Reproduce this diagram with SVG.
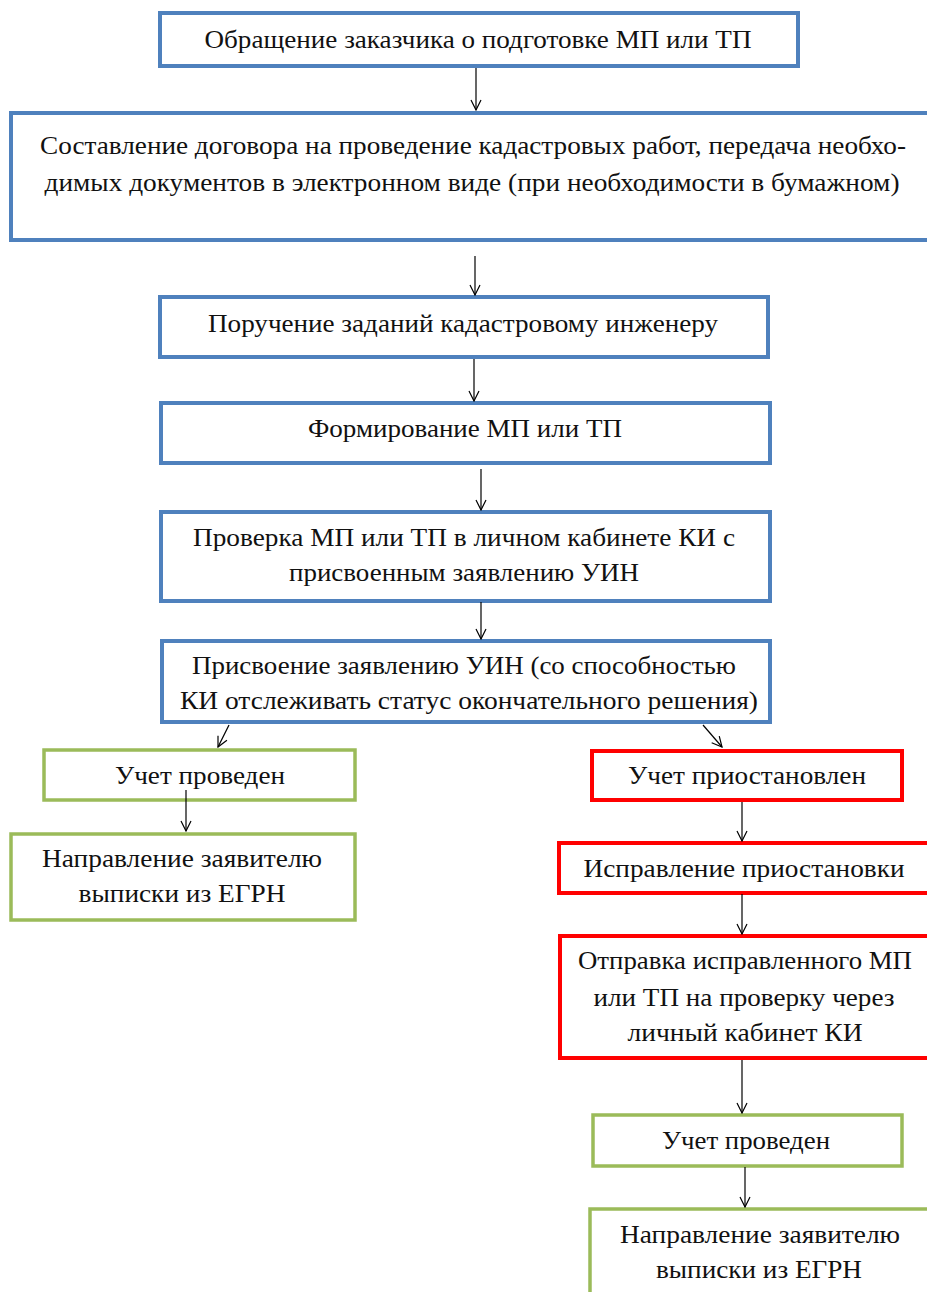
<svg xmlns="http://www.w3.org/2000/svg" width="927" height="1292" viewBox="0 0 927 1292">
<defs>
<marker id="arr" viewBox="0 0 12 12" refX="11" refY="6" markerWidth="12" markerHeight="12" markerUnits="userSpaceOnUse" orient="auto">
<path d="M1,1 L11,6 L1,11" fill="none" stroke="#000" stroke-width="1.2"/>
</marker>
<style>
.b{fill:#fff;stroke:#4F81BD;stroke-width:4}
.g{fill:#fff;stroke:#9BBB59;stroke-width:3.5}
.r{fill:#fff;stroke:#FF0000;stroke-width:4}
text{font-family:"Liberation Serif","Times New Roman",serif;font-size:26px;fill:#111;text-anchor:middle}
.c line{stroke:#000;stroke-width:1.2;marker-end:url(#arr)}
</style>
</defs>
<rect width="927" height="1292" fill="#fff"/>
<g id="n1"><rect class="b" x="160" y="13" width="638" height="53"/><text x="478" y="48" textLength="547" lengthAdjust="spacingAndGlyphs">Обращение заказчика о подготовке МП или ТП</text></g>
<g id="n2"><rect class="b" x="11" y="113" width="930" height="127"/><text x="473" y="154" textLength="866" lengthAdjust="spacingAndGlyphs">Составление договора на проведение кадастровых работ, передача необхо-</text><text x="472" y="191" textLength="855" lengthAdjust="spacingAndGlyphs">димых документов в электронном виде (при необходимости в бумажном)</text></g>
<g id="n3"><rect class="b" x="160" y="297" width="608" height="60"/><text x="463" y="332" textLength="510" lengthAdjust="spacingAndGlyphs">Поручение заданий кадастровому инженеру</text></g>
<g id="n4"><rect class="b" x="161" y="403" width="609" height="60"/><text x="465" y="437" textLength="314" lengthAdjust="spacingAndGlyphs">Формирование МП или ТП</text></g>
<g id="n5"><rect class="b" x="161" y="512" width="609" height="89"/><text x="464" y="546" textLength="542" lengthAdjust="spacingAndGlyphs">Проверка МП или ТП в личном кабинете КИ с</text><text x="464" y="581" textLength="350" lengthAdjust="spacingAndGlyphs">присвоенным заявлению УИН</text></g>
<g id="n6"><rect class="b" x="162" y="641" width="608" height="81"/><text x="464" y="674" textLength="544" lengthAdjust="spacingAndGlyphs">Присвоение заявлению УИН (со способностью</text><text x="469" y="709" textLength="578" lengthAdjust="spacingAndGlyphs">КИ отслеживать статус окончательного решения)</text></g>
<g id="g1"><rect class="g" x="44" y="750" width="311" height="50"/><text x="200" y="784" textLength="170" lengthAdjust="spacingAndGlyphs">Учет проведен</text></g>
<g id="g2"><rect class="g" x="11" y="834" width="344" height="86"/><text x="182" y="867" textLength="280" lengthAdjust="spacingAndGlyphs">Направление заявителю</text><text x="182" y="902" textLength="207" lengthAdjust="spacingAndGlyphs">выписки из ЕГРН</text></g>
<g id="r1"><rect class="r" x="592" y="751" width="310" height="49"/><text x="747" y="784" textLength="238" lengthAdjust="spacingAndGlyphs">Учет приостановлен</text></g>
<g id="r2"><rect class="r" x="559" y="843" width="380" height="50"/><text x="744" y="877" textLength="321" lengthAdjust="spacingAndGlyphs">Исправление приостановки</text></g>
<g id="r3"><rect class="r" x="560" y="936" width="380" height="122"/><text x="745" y="969" textLength="334" lengthAdjust="spacingAndGlyphs">Отправка исправленного МП</text><text x="744" y="1006" textLength="301" lengthAdjust="spacingAndGlyphs">или ТП на проверку через</text><text x="745" y="1041" textLength="235" lengthAdjust="spacingAndGlyphs">личный кабинет КИ</text></g>
<g id="g3"><rect class="g" x="593" y="1115" width="309" height="51"/><text x="746" y="1149" textLength="168" lengthAdjust="spacingAndGlyphs">Учет проведен</text></g>
<g id="g4"><rect class="g" x="590" y="1209" width="350" height="100"/><text x="760" y="1243" textLength="280" lengthAdjust="spacingAndGlyphs">Направление заявителю</text><text x="759" y="1278" textLength="206" lengthAdjust="spacingAndGlyphs">выписки из ЕГРН</text></g>
<g id="connectors" class="c">
<line x1="476" y1="68" x2="476" y2="110"/>
<line x1="475" y1="256" x2="475" y2="295"/>
<line x1="474" y1="359" x2="474" y2="401"/>
<line x1="481" y1="469" x2="481" y2="510"/>
<line x1="481" y1="602" x2="481" y2="639"/>
<line x1="229" y1="725" x2="218" y2="747"/>
<line x1="703" y1="725" x2="722" y2="747"/>
<line x1="186" y1="790" x2="186" y2="831"/>
<line x1="742" y1="802" x2="742" y2="841"/>
<line x1="742" y1="894" x2="742" y2="934"/>
<line x1="742" y1="1060" x2="742" y2="1113"/>
<line x1="745" y1="1167" x2="745" y2="1207"/>
</g>
</svg>
